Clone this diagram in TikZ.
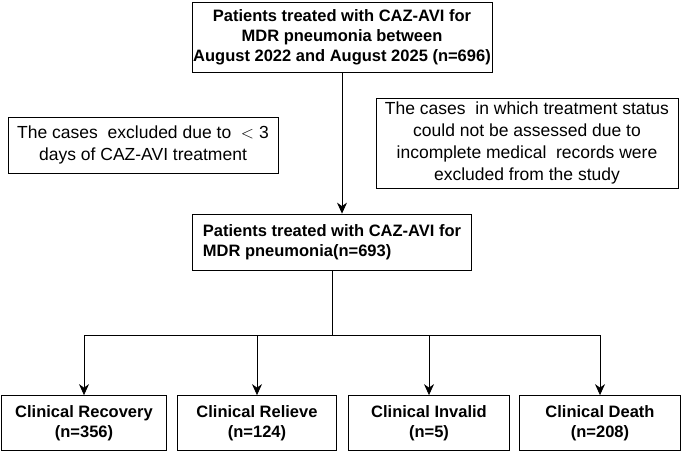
\documentclass[tikz,border=0pt]{standalone}
\usepackage{fontspec}
\setmainfont{Liberation Sans}
\usetikzlibrary{positioning,arrows.meta}
\tikzset{main/.style={draw,thick,align=center,inner sep=1pt,font=\fontsize{16.5}{20}\selectfont\bfseries},
note/.style={draw,thick,align=center,inner sep=1pt,font=\fontsize{17.5}{22}\selectfont},
arr/.style={-{Stealth[length=11pt,width=10pt]},thick}}
\begin{document}
\begin{tikzpicture}[x=1pt,y=-1pt]
	\useasboundingbox (0,0) rectangle (685,453);
	\node[main,minimum width=300,minimum height=70] (top) at (342,37) {Patients treated with CAZ-AVI for\\MDR pneumonia between\\August 2022 and August 2025 (n=696)};
	\node[note,minimum width=270,minimum height=56] (exA) at (143,145) {The cases\ \ excluded due to \ $<$ 3\\days of CAZ-AVI treatment};
	\node[note,minimum width=302,minimum height=90] (exB) at (527,143) {The cases\ \ in which treatment status\\could not be assessed due to\\incomplete medical\ \ records were\\excluded from the study};
	\node[main,minimum width=279,minimum height=56,align=left] (mid) at (332,242) {Patients treated with CAZ-AVI for\\MDR pneumonia(n=693)};
	\begin{scope}[every node/.style={main,minimum height=55}]
		\node[minimum width=165] (rec) at (84,423) {Clinical Recovery\\(n=356)};
		\node[minimum width=159] (rel) at (257,423) {Clinical Relieve\\(n=124)};
		\node[minimum width=161] (inv) at (429,423) {Clinical Invalid\\(n=5)};
		\node[minimum width=161] (dea) at (600,423) {Clinical Death\\(n=208)};
	\end{scope}
	\coordinate (hub) at (mid.south |- 0,335);
	\draw[arr] (top.south) -- (top.south |- mid.north);
	\draw[thick] (mid.south) -- (hub);
	\draw[thick] (rec.north |- hub) -- (dea.north |- hub);
	\foreach \n in {rec,rel,inv,dea}
		\draw[arr] (\n.north |- hub) -- (\n.north);
\end{tikzpicture}
\end{document}
